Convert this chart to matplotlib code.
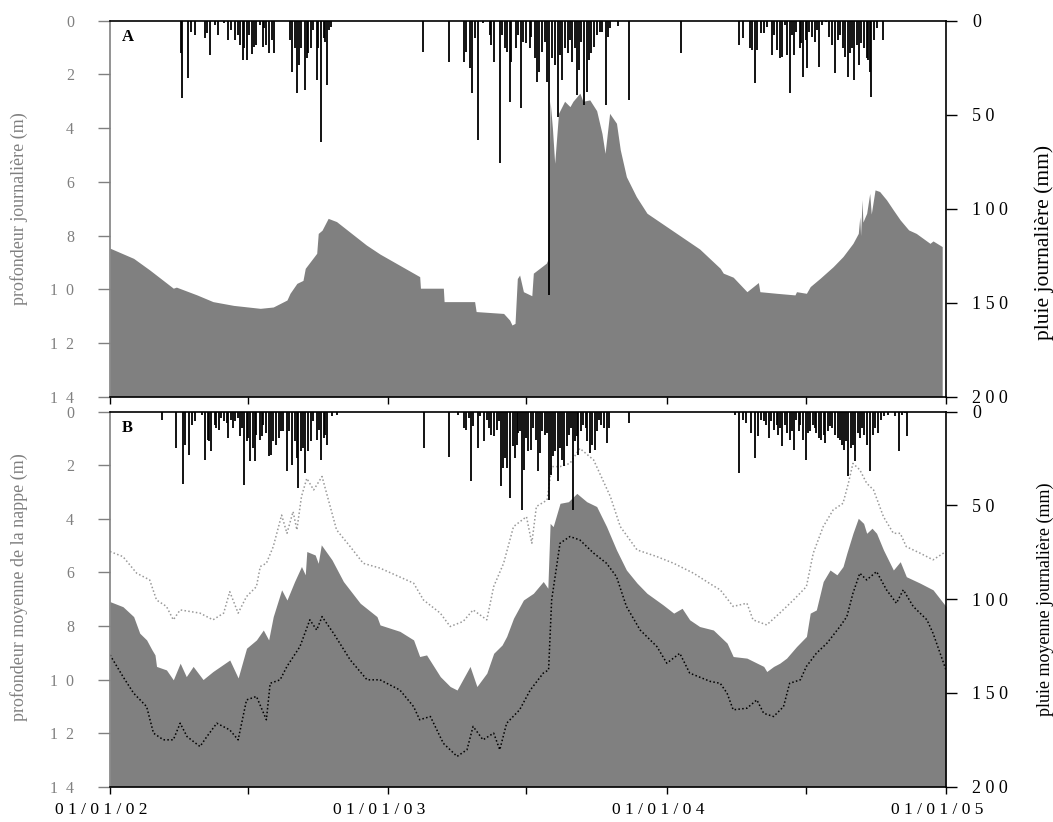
import matplotlib
matplotlib.use("Agg")
import matplotlib.pyplot as plt
import matplotlib.transforms as mtransforms
import numpy as np

plt.rcParams['font.family'] = ['Liberation Serif', 'DejaVu Serif']

# ---------------- data ----------------
# x axis: days since 01/01/2002
xtick_days = [0, 181, 365, 546, 730, 912, 1096]
xtick_labels = ['0 1 / 0 1 / 0 2', '', '0 1 / 0 1 / 0 3', '', '0 1 / 0 1 / 0 4', '', '0 1 / 0 1 / 0 5']
depth_ticks = [0, 2, 4, 6, 8, 10, 12, 14]
depth_labels = ['0', '2', '4', '6', '8', '1  0', '1  2', '1  4']
rain_ticks = [0, 50, 100, 150, 200]
rain_labels = ['0', '5 0', '1 0 0', '1 5 0', '2 0 0']

# Panel A: daily water-table depth (m)
a_days = [0, 31, 52, 83, 87, 114, 135, 162, 197, 214, 232, 236, 245, 253, 256, 271, 273, 278, 286, 297,
          336, 354, 406, 407, 437, 438, 478, 480, 516, 524, 527, 531, 534, 537, 542, 553, 555, 572, 574,
          577, 580, 583, 588, 596, 603, 607, 616, 620, 629, 638, 645, 649, 655, 664, 669, 677, 690, 704,
          773, 800, 804, 817, 835, 850, 852, 874, 898, 900, 913, 918, 931, 948, 961, 974, 981, 983, 984,
          986, 987, 992, 996, 998, 1003, 1009, 1018, 1027, 1036, 1047, 1057, 1075, 1079, 1091]
a_depth = [8.47, 8.85, 9.28, 9.96, 9.92, 10.21, 10.46, 10.6, 10.71, 10.66, 10.4, 10.15, 9.78, 9.67, 9.22,
           8.66, 7.92, 7.8, 7.36, 7.48, 8.35, 8.69, 9.53, 9.96, 9.96, 10.46, 10.46, 10.83, 10.9, 11.15,
           11.33, 11.27, 9.6, 9.47, 10.09, 10.24, 9.4, 9.03, 8.9, 3.0, 4.0, 5.31, 3.45, 3.0, 3.2, 3.0,
           2.7, 3.0, 2.95, 3.35, 4.2, 4.94, 3.45, 3.82, 4.81, 5.81, 6.55, 7.17, 8.5, 9.22, 9.4, 9.55,
           10.09, 9.75, 10.09, 10.15, 10.21, 10.09, 10.15, 9.9, 9.59, 9.16, 8.78, 8.29, 7.92, 7.3, 8.0,
           6.67, 7.5, 7.17, 6.43, 7.2, 6.3, 6.36, 6.67, 7.05, 7.42, 7.79, 7.92, 8.29, 8.2, 8.41]

# Panel A: daily rain (mm)
a_rain_days = [93, 95, 102, 106, 111, 124, 127, 131, 137, 141, 149, 155, 159, 164, 168, 170, 174, 176, 179,
               182, 186, 189, 192, 197, 200, 202, 205, 208, 212, 215, 236, 238, 242, 245, 248, 251, 255,
               258, 260, 263, 266, 271, 273, 276, 280, 282, 285, 287, 290,
               410, 444, 464, 467, 472, 475, 478, 482, 489, 498, 500, 503, 511, 514, 518, 521, 524, 526,
               532, 535, 539, 542, 546, 550, 552, 557, 560, 563, 567, 570, 573, 575, 580, 583, 587, 590,
               593, 597, 600, 603, 606, 609, 612, 615, 618, 621, 625, 628, 631, 634, 638, 642, 645, 650,
               653, 655, 666, 680, 749,
               825, 830, 839, 842, 846, 848, 854, 858, 861, 868, 871, 874, 878, 881, 885, 888, 891, 894,
               897, 900, 904, 906, 909, 912, 914, 917, 920, 924, 927, 929, 933, 939, 943, 947, 951, 954,
               957, 961, 964, 967, 970, 973, 976, 979, 982, 985, 988, 992, 994, 996, 998, 1001, 1005, 1013]
a_rain_mm = [17.3, 41, 30.6, 5.8, 7.6, 9.4, 6.7, 18.2, 2.3, 7.6, 1.4, 10.3, 5, 10.3, 7.6, 12.9, 20.9, 14.7,
             20.9, 7.6, 17.9, 13.8, 12.9, 2.3, 13.8, 4.1, 12.9, 17.4, 10.3, 17.4, 10.3, 27.1, 14.7, 38.6,
             23.6, 14.7, 36.9, 20, 17.4, 14.7, 5, 31.5, 14.7, 64.3, 9.4, 11.2, 34.2, 5, 3.2,
             16.5, 21.8, 21.8, 16.5, 25.3, 38.6, 9.4, 63.5, 1.4, 7.6, 12.9, 21.8, 75.9, 7.6, 14.7, 16.5,
             43, 21.8, 14.7, 7.6, 46.6, 11.2, 12, 14.7, 8.5, 20, 32.4, 27.1, 16.5, 11.2, 32.4, 146, 20,
             23.6, 51, 18.2, 31.5, 14.7, 17.4, 10.3, 21.8, 14.7, 39.5, 26.2, 11.2, 44.8, 37.8, 20.9, 17.4,
             13.8, 7.6, 5.8, 5.8, 44.8, 8.5, 4.1, 3, 42, 17,
             12.9, 9.4, 14.7, 15.6, 33.3, 15.6, 6.7, 6.7, 3.2, 18.2, 7.6, 15.6, 20, 19.1, 2.3, 18.2, 38.6,
             7.6, 18.2, 5.8, 14.7, 12, 29.8, 10.3, 25.3, 5.8, 8.5, 11.2, 5, 24.5, 2.3, 0.5, 8.5, 12.9, 28,
             10.3, 7.6, 14.7, 19.1, 29.8, 17.4, 14.7, 31.5, 12.9, 23.6, 12, 14.7, 20, 20.9, 27.1, 40.4,
             10.3, 4.1, 10.3]

# Panel B: mean water-table depth (m), and two dotted envelopes
b_days = [0, 17, 31, 39, 48, 55, 59, 61, 74, 83, 92, 100, 109, 122, 135, 157, 168, 179, 192, 201, 208, 214,
          225, 232, 242, 251, 256, 258, 269, 273, 277, 291, 306, 328, 350, 354, 380, 398, 406, 415, 433,
          446, 455, 472, 481, 494, 503, 514, 520, 529, 542, 555, 568, 574, 577, 581, 590, 601, 612, 625,
          638, 651, 664, 677, 691, 704, 725, 739, 750, 760, 773, 791, 809, 817, 835, 857, 861, 870, 878,
          887, 900, 913, 918, 926, 935, 944, 953, 961, 966, 974, 981, 988, 992, 999, 1005, 1014, 1027,
          1036, 1044, 1062, 1079, 1096]
b_depth = [7.09, 7.28, 7.65, 8.27, 8.52, 8.89, 9.08, 9.51, 9.64, 10.01, 9.39, 9.89, 9.51, 10.0, 9.7, 9.27,
           9.94, 8.83, 8.52, 8.15, 8.52, 7.65, 6.65, 7.03, 6.34, 5.78, 6.09, 5.22, 5.35, 5.66, 4.97, 5.53,
           6.34, 7.15, 7.65, 7.96, 8.2, 8.52, 9.14, 9.08, 9.89, 10.26, 10.39, 9.51, 10.26, 9.76, 9.02, 8.71,
           8.39, 7.71, 7.03, 6.78, 6.34, 6.59, 4.17, 4.29, 3.42, 3.36, 3.05, 3.36, 3.54, 4.29, 5.16, 5.91,
           6.4, 6.78, 7.21, 7.52, 7.34, 7.77, 8.02, 8.15, 8.64, 9.14, 9.2, 9.51, 9.7, 9.51, 9.39, 9.2,
           8.77, 8.39, 7.52, 7.4, 6.34, 5.91, 6.09, 5.78, 5.28, 4.54, 3.98, 4.17, 4.54, 4.35, 4.54, 5.16,
           5.91, 5.6, 6.16, 6.4, 6.65, 7.27]

b_up_days = [0, 17, 35, 52, 61, 74, 83, 92, 105, 118, 135, 149, 157, 168, 179, 192, 197, 205, 214, 225, 232,
             240, 245, 251, 258, 267, 278, 284, 297, 315, 332, 354, 398, 411, 433, 446, 463, 476, 494, 503,
             516, 529, 546, 553, 559, 573, 579, 590, 603, 616, 634, 642, 656, 669, 691, 717, 739, 765, 791,
             800, 817, 835, 843, 861, 878, 896, 913, 922, 935, 948, 961, 968, 974, 983, 992, 1001, 1014,
             1027, 1036, 1044, 1062, 1079, 1096]
b_up_depth = [5.22, 5.41, 6.03, 6.28, 7.03, 7.27, 7.77, 7.4, 7.46, 7.52, 7.77, 7.52, 6.72, 7.52, 6.9, 6.53,
              5.78, 5.66, 5.04, 3.86, 4.54, 3.73, 4.41, 3.17, 2.49, 2.92, 2.42, 3.05, 4.41, 5.04, 5.66, 5.84,
              6.4, 7.03, 7.52, 8.02, 7.83, 7.4, 7.77, 6.53, 5.66, 4.29, 3.92, 4.91, 3.54, 3.3, 2.05, 2.05,
              1.93, 1.37, 1.8, 2.3, 3.17, 4.29, 5.16, 5.41, 5.66, 6.03, 6.5, 6.65, 7.27, 7.15, 7.77, 7.96,
              7.52, 7.03, 6.53, 5.28, 4.29, 3.67, 3.42, 2.67, 1.93, 2.17, 2.67, 2.92, 3.92, 4.54, 4.54, 5.04,
              5.28, 5.53, 5.22]

b_low_days = [0, 17, 31, 48, 57, 70, 83, 92, 101, 118, 127, 140, 157, 168, 179, 192, 205, 210, 223, 232,
              249, 262, 271, 278, 293, 315, 337, 354, 380, 398, 406, 420, 437, 455, 468, 476, 489, 503, 511,
              520, 537, 551, 568, 575, 579, 590, 603, 616, 634, 651, 664, 677, 695, 717, 730, 747, 760, 787,
              800, 809, 817, 835, 848, 857, 870, 883, 891, 905, 913, 926, 940, 957, 966, 974, 983, 992, 1005,
              1018, 1031, 1040, 1053, 1071, 1079, 1096]
b_low_depth = [9.08, 9.89, 10.51, 11.01, 12.0, 12.25, 12.25, 11.63, 12.13, 12.5, 12.13, 11.63, 11.88, 12.25,
               10.76, 10.63, 11.5, 10.14, 10.01, 9.51, 8.77, 7.77, 8.15, 7.65, 8.27, 9.27, 10.01, 10.01,
               10.39, 11.01, 11.5, 11.38, 12.38, 12.87, 12.62, 11.75, 12.25, 12.0, 12.62, 11.63, 11.13,
               10.39, 9.76, 9.64, 7.03, 4.91, 4.66, 4.79, 5.28, 5.66, 6.16, 7.27, 8.15, 8.77, 9.39, 9.02,
               9.76, 10.07, 10.14, 10.51, 11.13, 11.07, 10.76, 11.26, 11.38, 11.01, 10.14, 10.01, 9.51, 9.02,
               8.64, 8.02, 7.65, 6.78, 6.03, 6.28, 5.97, 6.65, 7.15, 6.65, 7.27, 7.77, 8.27, 9.64]

# Panel B: mean daily rain (mm)
b_rain_days = [68, 87, 96, 98, 103, 107, 111, 120, 125, 128, 130, 133, 137, 139, 143, 146, 150, 153, 155, 158,
               161, 164, 168, 170, 173, 176, 179, 181, 184, 187, 190, 192, 196, 199, 201, 204, 208, 211, 214,
               217, 221, 224, 227, 232, 235, 238, 242, 245, 247, 250, 253, 256, 260, 263, 266, 271, 274, 277,
               280, 282, 285, 291, 297,
               411, 445, 456, 464, 467, 470, 473, 476, 482, 485, 490, 494, 497, 500, 504, 507, 510, 512, 515,
               518, 521, 525, 528, 531, 533, 535, 537, 540, 543, 545, 548, 552, 555, 558, 561, 564, 567, 570,
               573, 575, 578, 581, 584, 587, 590, 592, 595, 599, 602, 604, 607, 610, 612, 614, 617, 620, 624,
               626, 629, 632, 636, 638, 641, 644, 647, 651, 654, 680,
               819, 825, 830, 834, 840, 846, 849, 854, 857, 860, 864, 867, 870, 874, 876, 879, 881, 885, 888,
               891, 894, 897, 900, 903, 905, 909, 912, 915, 918, 921, 924, 926, 929, 932, 936, 938, 941, 944,
               947, 950, 954, 957, 960, 962, 965, 968, 971, 974, 977, 980, 983, 986, 989, 993, 997, 1000, 1003,
               1007, 1011, 1015, 1020, 1029, 1034, 1038, 1042, 1045]
b_rain_mm = [4.3, 19.4, 38.6, 17.6, 22.9, 6.9, 5.1, 1.6, 25.6, 14.9, 15.8, 21.1, 6.9, 8.7, 9.6, 3.4, 5.1, 6, 14,
             4.3, 8.7, 5.1, 3.4, 13.1, 8.7, 39.3, 15.8, 14, 26.5, 19.4, 26.5, 12.2, 14.9, 13.1, 6.9, 11.4,
             23.8, 22.9, 15.8, 17.6, 14, 10.5, 10.5, 31.8, 10.5, 28.2, 15.8, 24.7, 40.7, 21.1, 19.4, 32.7,
             21.1, 15.8, 5.1, 14.9, 9.6, 25.6, 14, 12.2, 17.6, 2.5, 1.6,
             19.4, 24.3, 1.6, 8.7, 9.6, 3.4, 37.1, 7.8, 19.4, 2.5, 15.8, 4.3, 8.7, 12.2, 13.1, 9.6, 5.1, 39.8,
             30, 24.7, 30, 46, 18.5, 24.7, 17.6, 11.4, 10.5, 52.2, 30.9, 14, 21.1, 20.2, 8.7, 14.9, 31.8, 22,
             10.5, 12.2, 11.4, 46.9, 33.6, 23.8, 21.1, 37.1, 19.4, 25.6, 29.1, 18.5, 12.2, 8.7, 52.2, 15.8,
             13.1, 22.9, 10.5, 6.9, 8.7, 15.8, 22, 17.6, 20.2, 10.5, 4.3, 6.9, 8.7, 16.7, 8.7, 6.2,
             1.6, 32.7, 4.3, 6, 11.4, 24.7, 13.1, 4.3, 5.1, 6.9, 14, 5.1, 9.6, 6.9, 12.2, 8.7, 18.5, 6.9, 11.4,
             14.9, 10.5, 20.2, 4.3, 10.5, 6.9, 14.9, 25.6, 11.4, 10.5, 6.9, 8.7, 11.4, 14, 14.9, 12.2, 16.7,
             10.5, 7.8, 8.7, 12.2, 14, 14.9, 17.6, 20.2, 15.8, 34.5, 19.4, 17.6, 26.5, 11.4, 14, 8.7, 12.2,
             17.6, 31.8, 12.2, 8.7, 11.4, 4.3, 2.5, 1.6, 2.5, 21.1, 1.6, 0.7, 13.1]

# ---------------- figure ----------------
W, H = 1053, 822
fig = plt.figure(figsize=(W / 100, H / 100), dpi=100)
GREY = '#808080'
FILL = '#808080'


def make_panel(rect, tag, left_label, right_label, ldays, ldepth, rdays, rmm,
               show_xlabels, rlabel_x, rlabel_y, llabel_y, rlabel_size):
    ax = fig.add_axes(rect)
    ax.fill_between(ldays, ldepth, 14, color=FILL, linewidth=0, zorder=1)
    ax.set_xlim(0, 1096)
    ax.set_ylim(14, 0)
    ax.set_yticks(depth_ticks)
    ax.set_yticklabels(depth_labels, color=GREY, fontsize=11.5)
    ax.tick_params(axis='y', direction='out', length=9, width=1.0, color=GREY, pad=17)
    ax.set_xticks(xtick_days)
    ax.tick_params(axis='x', direction='out', length=5, width=1.0, color='black', pad=6)
    if show_xlabels:
        ax.set_xticklabels(xtick_labels, fontsize=12.5)
        shift = mtransforms.ScaledTranslation(-9 / 100, 0, fig.dpi_scale_trans)
        for lab in ax.get_xticklabels():
            lab.set_transform(lab.get_transform() + shift)
    else:
        ax.set_xticklabels([])
    ax.spines['right'].set_visible(False)
    ax.spines['left'].set_color(GREY)
    ax.spines['left'].set_linewidth(1.2)
    ax.spines['top'].set_linewidth(1.2)
    ax.spines['bottom'].set_linewidth(1.2)
    ax.set_ylabel(left_label, color=GREY, fontsize=13)
    ax.yaxis.set_label_coords(-0.098, llabel_y)
    ax.text(0.014, 0.957, tag, transform=ax.transAxes, fontsize=12, fontweight='bold',
            ha='left', va='center')

    tw = ax.twinx()
    tw.vlines(rdays, 0, rmm, color='black', linewidth=1.3, zorder=3)
    tw.set_ylim(200, 0)
    tw.set_xlim(0, 1096)
    tw.set_yticks(rain_ticks)
    tw.set_yticklabels(rain_labels, fontsize=13)
    tw.tick_params(axis='y', direction='out', length=8, width=1.0, color='black', pad=11)
    for s in ['left', 'top', 'bottom']:
        tw.spines[s].set_visible(False)
    tw.spines['right'].set_linewidth(1.2)
    tw.set_ylabel(right_label, fontsize=rlabel_size, rotation=90)
    tw.yaxis.set_label_coords(rlabel_x, rlabel_y)
    return ax, tw


left = 110 / W
width = 836 / W
axA, twA = make_panel([left, 1 - 396.7 / H, width, 376 / H], 'A',
                      'profondeur journalière (m)', 'pluie journalière (mm)',
                      a_days, a_depth, a_rain_days, a_rain_mm, False, 1.106, 0.409, 0.5, 15.5)
axB, twB = make_panel([left, 1 - 786.7 / H, width, 375 / H], 'B',
                      'profondeur moyenne de la nappe (m)', 'pluie moyenne journalière (mm)',
                      b_days, b_depth, b_rain_days, b_rain_mm, True, 1.108, 0.5, 0.533, 13)
axB.plot(b_up_days, b_up_depth, linestyle=(0, (1, 1.5)), color='#999999', linewidth=1.1, zorder=2)
axB.plot(b_low_days, b_low_depth, linestyle=(0, (1, 1.5)), color='black', linewidth=1.1, zorder=2)

fig.savefig('out.png', dpi=100)
